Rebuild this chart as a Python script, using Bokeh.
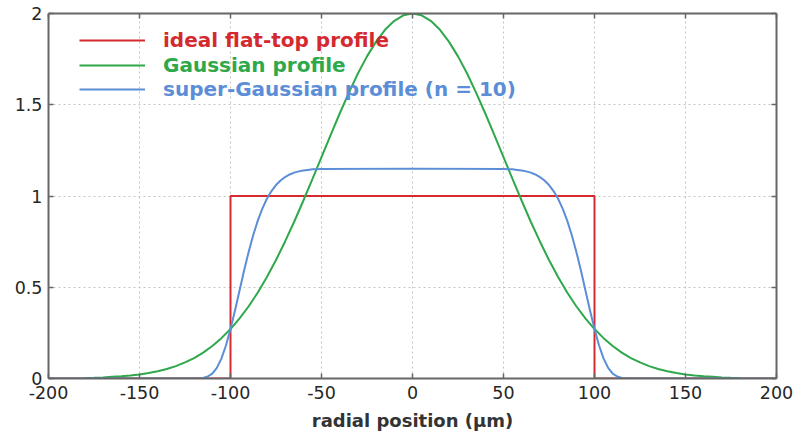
from bokeh.plotting import figure
from bokeh.models import Range1d, LinearAxis, Legend, LegendItem, FixedTicker
from bokeh.embed import file_html
from bokeh.resources import INLINE

# ---- data ----
flat_x = [-200, -100, -100, 100, 100, 200]
flat_y = [0, 0, 1, 1, 0, 0]

gauss_x = list(range(-180, 185, 5))
gauss_y = [0.003, 0.004, 0.006, 0.009, 0.012, 0.016, 0.022, 0.030, 0.040, 0.052,
           0.068, 0.088, 0.112, 0.142, 0.178, 0.221, 0.271, 0.329, 0.396, 0.471,
           0.556, 0.649, 0.751, 0.859, 0.974, 1.092, 1.213, 1.334, 1.452, 1.565,
           1.671, 1.765, 1.846, 1.912, 1.960, 1.990, 2.000,
           1.990, 1.960, 1.912, 1.846, 1.765, 1.671, 1.565, 1.452, 1.334, 1.213,
           1.092, 0.974, 0.859, 0.751, 0.649, 0.556, 0.471, 0.396, 0.329, 0.271,
           0.221, 0.178, 0.142, 0.112, 0.088, 0.068, 0.052, 0.040, 0.030, 0.022,
           0.016, 0.012, 0.009, 0.006, 0.004, 0.003]

sg_x = [-200, -120, -117.5, -115, -112.5, -110, -107.5, -105, -102.5, -100,
        -97.5, -95, -92.5, -90, -87.5, -85, -82.5, -80, -77.5, -75,
        -72.5, -70, -67.5, -65, -62.5, -60, -57.5, -55, -50, 0,
        50, 55, 57.5, 60, 62.5, 65, 67.5, 70, 72.5, 75,
        77.5, 80, 82.5, 85, 87.5, 90, 92.5, 95, 97.5, 100,
        102.5, 105, 107.5, 110, 112.5, 115, 117.5, 120, 200]
sg_y = [0, 0, 0.001, 0.003, 0.011, 0.027, 0.058, 0.109, 0.181, 0.271,
        0.374, 0.484, 0.593, 0.695, 0.786, 0.865, 0.931, 0.985, 1.027, 1.060,
        1.085, 1.104, 1.118, 1.128, 1.135, 1.140, 1.143, 1.146, 1.148, 1.150,
        1.148, 1.146, 1.143, 1.140, 1.135, 1.128, 1.118, 1.104, 1.085, 1.060,
        1.027, 0.985, 0.931, 0.865, 0.786, 0.695, 0.593, 0.484, 0.374, 0.271,
        0.181, 0.109, 0.058, 0.027, 0.011, 0.003, 0.001, 0, 0]

x_ticks = [-200, -150, -100, -50, 0, 50, 100, 150, 200]
x_tick_labels = ["-200", "-150", "-100", "-50", "0", "50", "100", "150", "200"]
y_ticks = [0, 0.5, 1, 1.5, 2]
y_tick_labels = ["0", "0.5", "1", "1.5", "2"]
series_labels = ["ideal flat-top profile", "Gaussian profile", "super-Gaussian profile (n = 10)"]
colors = ["#d42a2f", "#2ea84b", "#5b8ed6"]

FONT = "DejaVu Sans"
FRAME = "#666666"

p = figure(width=793, height=434, x_range=Range1d(-200, 200), y_range=Range1d(0, 2),
           output_backend="svg", toolbar_location=None,
           min_border_left=48, min_border_right=17, min_border_top=13, min_border_bottom=56)
p.outline_line_color = None
p.background_fill_color = "white"

def style_axis(ax, labels=True):
    ax.axis_line_color = FRAME
    ax.axis_line_width = 2
    ax.major_tick_line_color = FRAME
    ax.major_tick_line_width = 1.5
    ax.major_tick_in = 5
    ax.major_tick_out = 0
    ax.minor_tick_line_color = None
    if labels:
        ax.major_label_text_font = FONT
        ax.major_label_text_font_size = "17.5px"
        ax.major_label_text_color = "#262626"
        ax.major_label_standoff = 6
    else:
        ax.major_label_text_font_size = "0px"
        ax.major_label_standoff = 0
        ax.major_label_text_color = None

xa = p.xaxis[0]
xa.ticker = FixedTicker(ticks=x_ticks)
xa.major_label_overrides = {t: l for t, l in zip(x_ticks, x_tick_labels)}
style_axis(xa)
xa.major_label_standoff = 7
xa.axis_label = "radial position (µm)"
xa.axis_label_text_font = FONT
xa.axis_label_text_font_style = "bold"
xa.axis_label_text_font_size = "18px"
xa.axis_label_text_color = "#333333"
xa.axis_label_standoff = 8

ya = p.yaxis[0]
ya.ticker = FixedTicker(ticks=y_ticks)
ya.major_label_overrides = {t: l for t, l in zip(y_ticks, y_tick_labels)}
style_axis(ya)

top = LinearAxis(ticker=FixedTicker(ticks=x_ticks))
style_axis(top, labels=False)
p.add_layout(top, "above")
right = LinearAxis(ticker=FixedTicker(ticks=y_ticks))
style_axis(right, labels=False)
p.add_layout(right, "right")

p.xgrid.ticker = FixedTicker(ticks=x_ticks[1:-1])
p.ygrid.ticker = FixedTicker(ticks=y_ticks[1:-1])
for g in (p.xgrid[0], p.ygrid[0]):
    g.grid_line_color = "#c4c4c4"
    g.grid_line_dash = "2 3"
    g.grid_line_width = 1

r_flat = p.line(flat_x, flat_y, line_color=colors[0], line_width=2)
r_gauss = p.line(gauss_x, gauss_y, line_color=colors[1], line_width=2)
r_sg = p.line(sg_x, sg_y, line_color=colors[2], line_width=2)

renderers = [r_flat, r_gauss, r_sg]
bottoms = [326, 301.5, 277]
for r, lab, col, yb in zip(renderers, series_labels, colors, bottoms):
    lg = Legend(items=[LegendItem(label=lab, renderers=[r])], location=(31, yb),
                glyph_width=66, glyph_height=20, label_height=20, label_standoff=18,
                padding=0, margin=0, spacing=0, border_line_color=None,
                background_fill_alpha=0,
                label_text_font=FONT, label_text_font_style="bold",
                label_text_font_size="20px", label_text_color=col)
    p.add_layout(lg)

open("out.html", "w").write(file_html(p, INLINE))
